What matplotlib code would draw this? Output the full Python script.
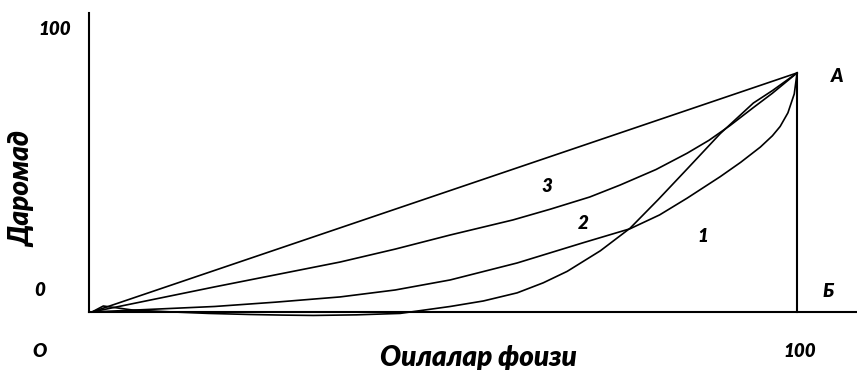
import matplotlib.pyplot as plt

# curves (x: share of families, y: income, A = (100, 100))
x3 = [0, 17.4, 35.2, 43, 50.8, 59.7, 65, 70.6, 74.9, 80, 84.4, 87.5, 90.5, 93.8, 96.5, 100]
y3 = [0, 10.5, 20.9, 26.3, 32.2, 38.5, 43, 48.1, 53.1, 59.6, 66.4, 71.8, 78, 85.5, 91.5, 100]

x2 = [0, 17.4, 26, 35.2, 43, 50.8, 60.3, 69.7, 76.3, 80.5, 84.4, 89.1, 92, 94.8, 96.5, 97.6, 98.7, 99.6, 100]
y2 = [0, 2.3, 4.1, 6.3, 9.2, 13.4, 20.5, 29.0, 34.8, 40.6, 47.6, 56.6, 62.6, 69, 73.7, 77.6, 83.3, 91.2, 100]

x1 = [0, 1.6, 5.8, 11.5, 16.5, 22.4, 27, 31.4, 37.5, 43.7, 50.8, 55.5, 60.3, 64, 67.4, 72.1,
      76.3, 80.3, 84.4, 89.1, 93.8, 96.5, 100]
y1 = [0, 2.5, 0.8, 0, -0.6, -1.05, -1.3, -1.45, -1.2, -0.6, 2.3, 4.6, 8.0, 12.2, 17.0, 25.6,
      35.0, 47, 59.8, 74.6, 87.4, 92.6, 100]

diag_x = [0, 100]
diag_y = [0, 100]

fig = plt.figure(figsize=(8.57, 3.70), dpi=100)
ax = fig.add_axes([0, 0, 1, 1])
ax.set_xlim(-13.05, 108.5)
ax.set_ylim(-24.27, 130.5)
ax.axis('off')

lw = 1.2
ax.plot([-0.43, -0.43], [0, 125], color='black', lw=1.5)
ax.plot([-0.43, 108.5], [0, 0], color='black', lw=1.5)
ax.plot([100, 100], [0, 100], color='black', lw=1.5)
ax.plot(diag_x, diag_y, color='black', lw=lw)
ax.plot(x3, y3, color='black', lw=lw)
ax.plot(x2, y2, color='black', lw=lw)
ax.plot(x1, y1, color='black', lw=lw)

fnt = dict(family='Lato', fontweight='heavy', fontstyle='italic', color='black')
ax.text(-5.3, 118, '100', ha='center', va='center', fontsize=13.5, **fnt)
ax.text(-7.4, 8.8, '0', ha='center', va='center', fontsize=13.5, **fnt)
ax.text(-7.4, -16.7, 'O', ha='center', va='center', fontsize=13.5, **fnt)
ax.text(100.4, -16.7, '100', ha='center', va='center', fontsize=13.5, **fnt)
ax.text(105.7, 98.3, 'A', ha='center', va='center', fontsize=13.5, **fnt)
ax.text(104.4, 8.4, 'Б', ha='center', va='center', fontsize=13.5, **fnt)
ax.text(64.5, 52.3, '3', ha='center', va='center', fontsize=13.5, **fnt)
ax.text(69.6, 37.2, '2', ha='center', va='center', fontsize=13.5, **fnt)
ax.text(86.7, 31.4, '1', ha='center', va='center', fontsize=13.5, **fnt)
ax.text(-9.9, 51.5, 'Даромад', ha='center', va='center', rotation=90, fontsize=20, **fnt)
ax.text(54.8, -19.3, 'Оилалар фоизи', ha='center', va='center', fontsize=20, **fnt)

fig.savefig('out.png', dpi=100)
